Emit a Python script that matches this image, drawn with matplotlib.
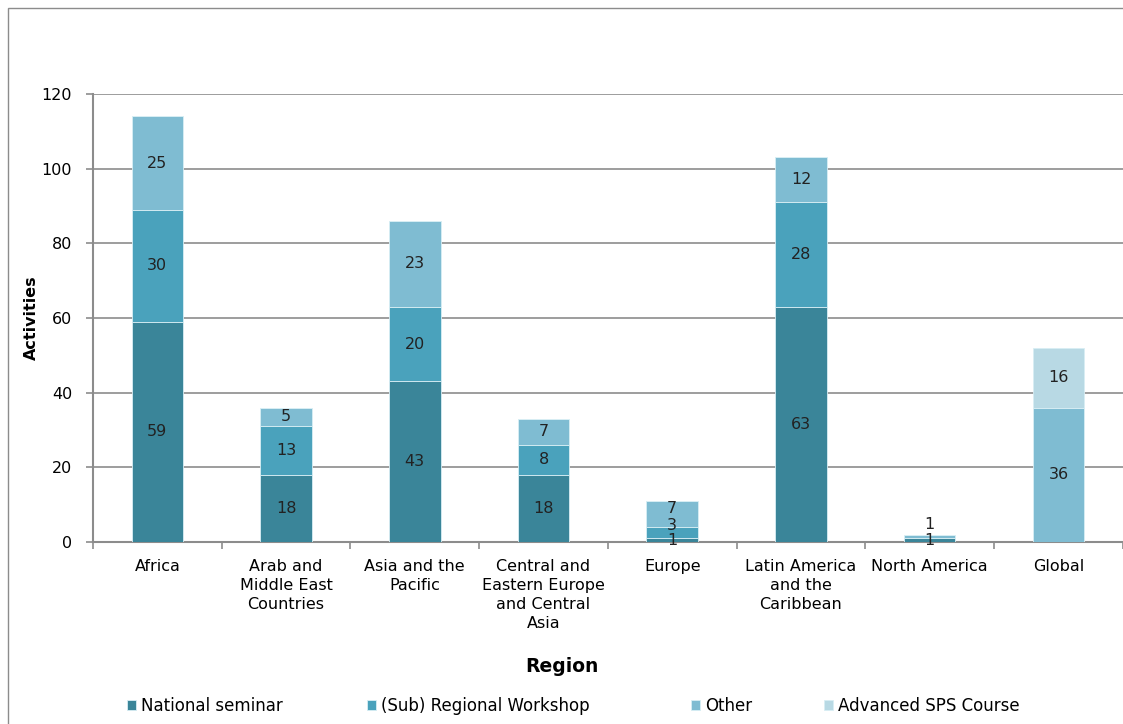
import matplotlib.pyplot as plt
import numpy as np
from matplotlib.patches import Rectangle

# Data
regions = ['Africa', 'Arab and\nMiddle East\nCountries', 'Asia and the\nPacific',
           'Central and\nEastern Europe\nand Central\nAsia', 'Europe',
           'Latin America\nand the\nCaribbean', 'North America', 'Global']
national = [59, 18, 43, 18, 1, 63, 1, 0]
regional = [30, 13, 20, 8, 3, 28, 0, 0]
other = [25, 5, 23, 7, 7, 12, 1, 36]
advanced = [0, 0, 0, 0, 0, 0, 0, 16]

series = [('National seminar', national, '#3a8599'),
          ('(Sub) Regional Workshop', regional, '#4aa2bc'),
          ('Other', other, '#7fbcd2'),
          ('Advanced SPS Course', advanced, '#b8d9e4')]

plt.rcParams['font.family'] = 'DejaVu Sans'
fig = plt.figure(figsize=(11.23, 7.24), dpi=100)
ax = fig.add_axes([0.0828, 0.2514, 0.917, 0.6188])

x = np.arange(len(regions))
bottom = np.zeros(len(regions))
totals = np.sum([national, regional, other, advanced], axis=0)
handles = []
for name, vals, col in series:
    vals = np.array(vals, dtype=float)
    bars = ax.bar(x, vals, 0.4, bottom=bottom, color=col, label=name,
                  edgecolor='#d8eef4', linewidth=0.6, zorder=3)
    handles.append(bars)
    for xi, b, v, t in zip(x, bottom, vals, totals):
        if v > 0:
            y = b + v / 2
            # tiny stacks: spread the labels apart like in the original
            if t <= 2 and b > 0:
                y = t + 2.8
            elif t < 15:
                if b == 0:
                    y -= 0.2
                elif b + v == t:
                    y += 1.5
                else:
                    y += 1.8
            ax.text(xi, y, f'{int(v)}', ha='center', va='center',
                    fontsize=11.5, color='#222222', zorder=4)
    bottom += vals

ax.set_xlim(-0.5, len(regions) - 0.5)
ax.set_ylim(0, 120)
ax.set_yticks(range(0, 121, 20))
ax.yaxis.grid(True, color='#8c8c8c', linewidth=1.2, zorder=0)
ax.set_xticks(x)
ax.set_xticklabels(regions, fontsize=11.5, linespacing=1.33)
ax.set_xticks(np.arange(-0.5, len(regions), 1), minor=True)
ax.tick_params(axis='x', which='major', length=0, pad=12)
ax.tick_params(axis='x', which='minor', length=5, width=1.2, color='#8c8c8c')
ax.tick_params(axis='y', labelsize=11.5, length=5, width=1.2,
               color='#8c8c8c', pad=10)
for s in ['top', 'right']:
    ax.spines[s].set_visible(False)
for s in ['left', 'bottom']:
    ax.spines[s].set_color('#8c8c8c')
    ax.spines[s].set_linewidth(1.5)

ax.set_ylabel('Activities', fontsize=11.5, fontweight='bold', labelpad=2)
fig.text(0.5, 1 - 667 / 724, 'Region', ha='center', va='center',
         fontsize=13.5, fontweight='bold')

# one legend per entry so the spacing follows the original
legend_x = [127, 367, 691, 824]
for h, (name, _, _), lx in zip(handles, series, legend_x):
    lg = fig.legend(handles=[h], labels=[name], loc='center left',
                    bbox_to_anchor=(lx / 1123, 1 - 706 / 724), frameon=False,
                    fontsize=12, handlelength=0.55, handleheight=0.55,
                    handletextpad=0.3, borderpad=0, borderaxespad=0)

fig.patches.append(Rectangle((8 / 1123, -0.01), 1.1, 1 - 8 / 724 + 0.01,
                             transform=fig.transFigure, fill=False,
                             edgecolor='#8c8c8c', linewidth=1))

fig.savefig('out.png', dpi=100)
